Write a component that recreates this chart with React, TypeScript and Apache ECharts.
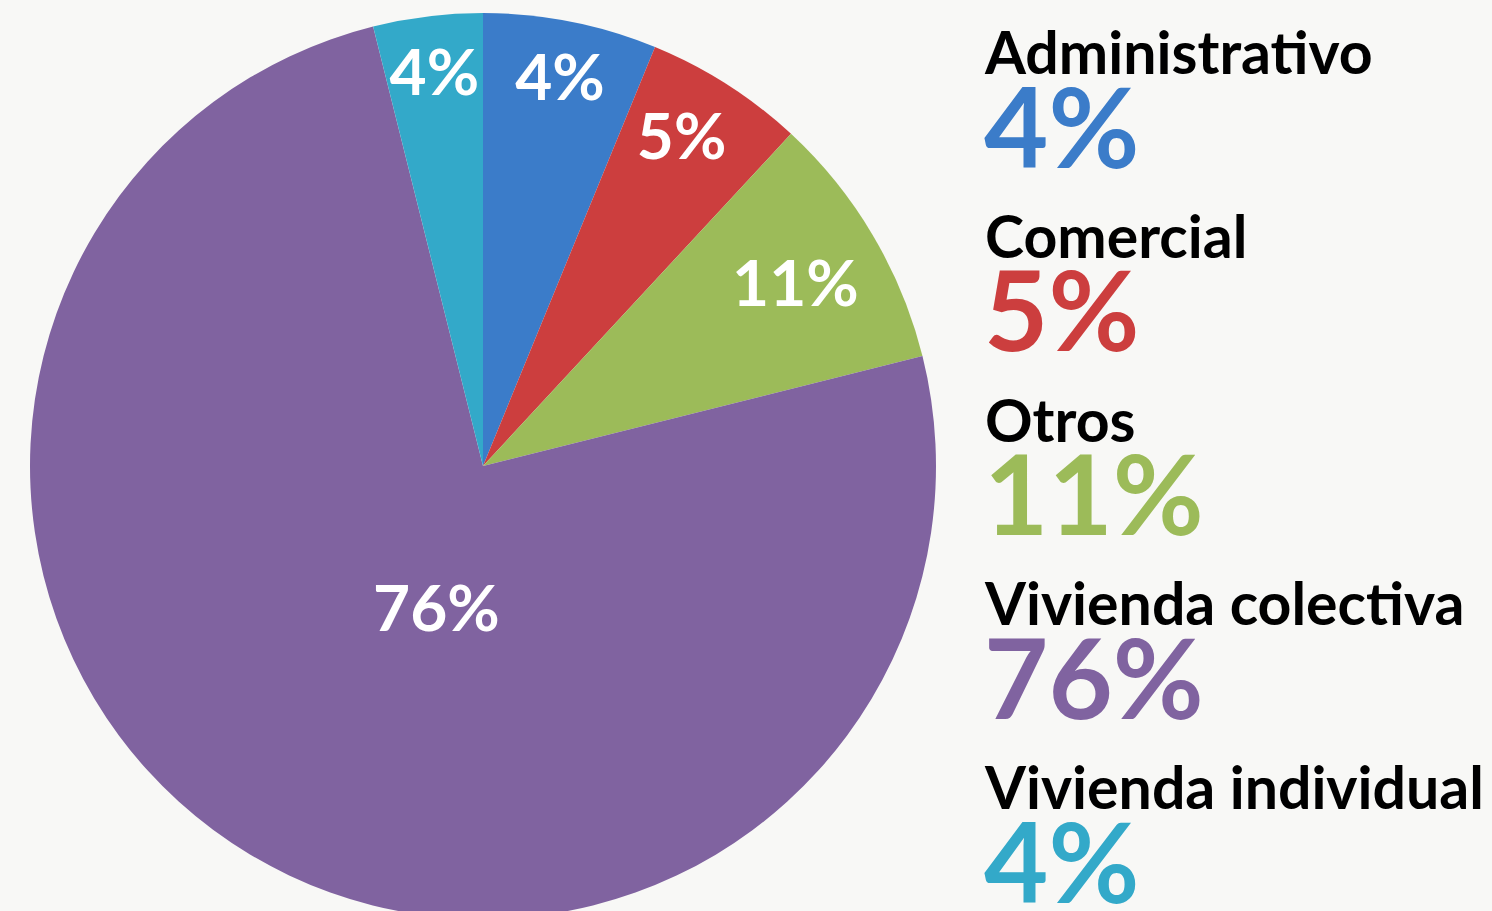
import React, { useEffect, useRef } from "react";
import * as echarts from "echarts";

// Categories, their slice values and the printed labels
const categories = ["Administrativo", "Comercial", "Otros", "Vivienda colectiva", "Vivienda individual"];
const sliceValues = [6.2, 5.7, 9.2, 75.0, 3.9];
const percentLabels = ["4%", "5%", "11%", "76%", "4%"];
const colors = ["#3b7cc9", "#cc3e3e", "#9cbb59", "#8063a0", "#33a9c9"];

const FONT = "Lato, 'Noto Sans', sans-serif";
const CENTER = [483, 466];
const R = 453;

// key layout: row pitch and offsets
const KEY_X = 985;
const KEY_NAME_Y = 51.5;
const KEY_PCT_Y = 124.7;
const KEY_PITCH = 183.75;

export default function App() {
  const ref = useRef<HTMLDivElement>(null);
  useEffect(() => {
    if (!ref.current) return;
    const chart = echarts.init(ref.current, null, { renderer: "svg" });
    const data = categories.map((name, i) => ({ name, value: sliceValues[i] }));

    const labelSeries = (radius: number[], show: number[], extra: any = {}) => ({
      type: "pie",
      center: CENTER,
      radius,
      startAngle: 90,
      clockwise: true,
      silent: true,
      legendHoverLink: false,
      emphasis: { disabled: true },
      labelLine: { show: false },
      itemStyle: { color: "rgba(0,0,0,0)" },
      data: data.map((d, i) => ({
        ...d,
        label: {
          show: show.includes(i),
          position: "inside",
          formatter: () => percentLabels[i],
          color: "#ffffff",
          fontFamily: FONT,
          fontWeight: "bold",
          fontSize: 64,
        },
      })),
      ...extra,
    });

    const keyTexts: any[] = [];
    categories.forEach((name, i) => {
      keyTexts.push({
        type: "text",
        x: KEY_X,
        y: KEY_NAME_Y + i * KEY_PITCH,
        silent: true,
        style: {
          text: name,
          fill: "#000000",
          font: `bold 59px ${FONT}`,
          verticalAlign: "middle",
          align: "left",
        },
      });
      keyTexts.push({
        type: "text",
        x: KEY_X - 1,
        y: KEY_PCT_Y + i * KEY_PITCH,
        silent: true,
        style: {
          text: percentLabels[i],
          fill: colors[i],
          font: `bold 111px ${FONT}`,
          verticalAlign: "middle",
          align: "left",
        },
      });
    });

    chart.setOption({
      animation: false,
      backgroundColor: "#f8f8f6",
      color: colors,
      graphic: keyTexts,
      series: [
        {
          type: "pie",
          center: CENTER,
          radius: [0, R],
          startAngle: 90,
          clockwise: true,
          label: { show: false },
          labelLine: { show: false },
          emphasis: { disabled: true },
          itemStyle: { borderWidth: 0 },
          data: data.map((d, i) => ({ ...d, itemStyle: { color: colors[i] } })),
        },
        labelSeries([330, 460], [0, 4]),
        labelSeries([330, 450], [1], { labelLayout: () => ({ dx: -13, dy: 0 }) }),
        labelSeries([270, 450], [2]),
        labelSeries([0, 288], [3], { labelLayout: () => ({ dx: 29, dy: 14 }) }),
      ],
    });
    return () => chart.dispose();
  }, []);
  return <div ref={ref} style={{ position: "absolute", left: 0, top: 0, width: 1492, height: 911 }} />;
}
